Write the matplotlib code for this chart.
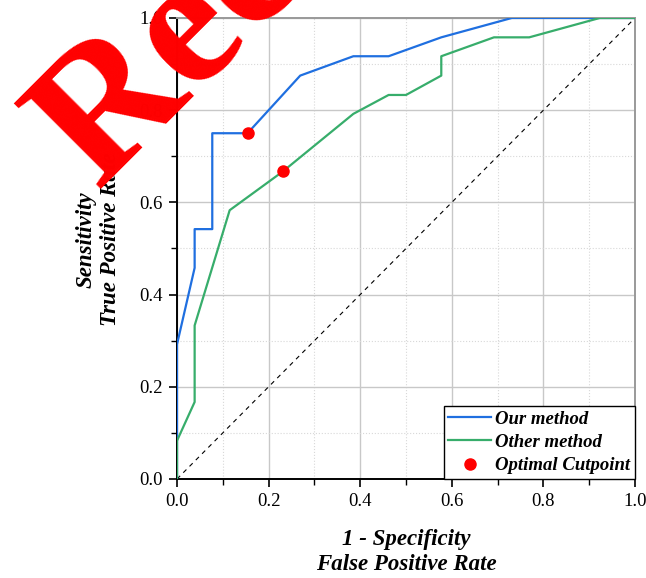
import matplotlib
matplotlib.use("Agg")
import matplotlib.pyplot as plt
from matplotlib.ticker import MultipleLocator, FormatStrFormatter

# ROC data (26 negatives, 24 positives)
fpr_ours = [0.0, 0.0, 0.0385, 0.0385, 0.077, 0.077, 0.154, 0.269, 0.385, 0.462, 0.577, 0.731, 1.0]
tpr_ours = [0.0, 0.292, 0.458, 0.542, 0.542, 0.75, 0.75, 0.875, 0.917, 0.917, 0.958, 1.0, 1.0]

fpr_other = [0.0, 0.0, 0.0385, 0.0385, 0.115, 0.231, 0.385, 0.462, 0.5, 0.577, 0.577, 0.692, 0.769, 0.923, 1.0]
tpr_other = [0.0, 0.083, 0.167, 0.333, 0.583, 0.667, 0.792, 0.833, 0.833, 0.875, 0.917, 0.958, 0.958, 1.0, 1.0]

cut_fpr = [0.154, 0.231]
cut_tpr = [0.75, 0.667]

labels = ["Our method", "Other method", "Optimal Cutpoint"]
watermark = "Received"

plt.rcParams['font.family'] = ['Liberation Serif', 'DejaVu Serif']

fig = plt.figure(figsize=(6.46, 5.78), dpi=100)
ax = fig.add_axes([0.274, 0.1713, 0.709, 0.7976])

ax.plot([0, 1], [0, 1], linestyle=(0, (4, 4)), color='black', lw=0.8, zorder=2)
ax.plot(fpr_ours, tpr_ours, color='#1f6fe0', lw=1.6, label=labels[0], zorder=3)
ax.plot(fpr_other, tpr_other, color='#37ad6b', lw=1.6, label=labels[1], zorder=3)
ax.plot(cut_fpr, cut_tpr, 'o', color='red', ms=8, label=labels[2], zorder=4)

ax.set_xlim(0, 1)
ax.set_ylim(0, 1)
ax.xaxis.set_major_locator(MultipleLocator(0.2))
ax.xaxis.set_minor_locator(MultipleLocator(0.1))
ax.yaxis.set_major_locator(MultipleLocator(0.2))
ax.yaxis.set_minor_locator(MultipleLocator(0.1))
ax.xaxis.set_major_formatter(FormatStrFormatter('%.1f'))
ax.yaxis.set_major_formatter(FormatStrFormatter('%.1f'))

ax.grid(which='major', color='#c8c8c8', lw=1.0, ls='-')
ax.grid(which='minor', color='#d8d8d8', lw=0.8, ls=':')
ax.set_axisbelow(True)

ax.tick_params(which='major', direction='out', length=6, width=1.2, labelsize=13.5,
               colors='black', pad=4)
ax.tick_params(which='minor', direction='out', length=4, width=1.0)

for s in ['left', 'bottom']:
    ax.spines[s].set_color('black')
    ax.spines[s].set_linewidth(1.4)
for s in ['top', 'right']:
    ax.spines[s].set_color('#999999')
    ax.spines[s].set_linewidth(1.4)

ax.set_xlabel("1 - Specificity\nFalse Positive Rate", fontsize=16.5, fontweight='bold',
              fontstyle='italic', labelpad=14, linespacing=1.22)
ax.set_ylabel("Sensitivity\nTrue Positive Rate", fontsize=16.5, fontweight='bold',
              fontstyle='italic', linespacing=1.22)
ax.yaxis.set_label_coords(-0.122, 0.52)

leg = ax.legend(loc='lower right', borderaxespad=0, fancybox=False, edgecolor='black',
                framealpha=1, handlelength=2.3, handletextpad=0.2, borderpad=0.25,
                labelspacing=0.33, prop={'size': 13.5, 'weight': 'bold', 'style': 'italic'})
leg.get_frame().set_linewidth(1.0)

fig.text(0.150, 0.672, watermark, rotation=45, rotation_mode='anchor', ha='left', va='baseline',
         fontsize=134, fontweight='bold', color='red', zorder=10)

fig.savefig("out.png", dpi=100)
